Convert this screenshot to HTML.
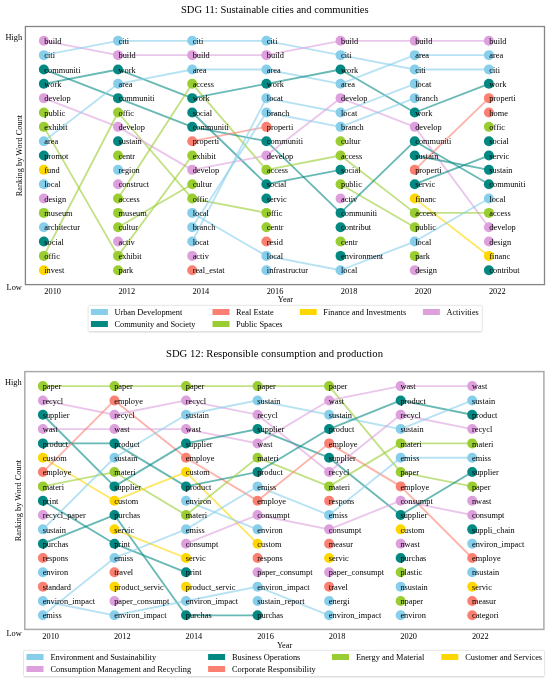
<!DOCTYPE html><html><head><meta charset="utf-8"><style>html,body{margin:0;padding:0;background:#fff;}svg{display:block;filter:blur(0.3px);}text{font-family:"Liberation Serif",serif;font-size:8.35px;fill:#000;}.ttl{font-size:10.3px;}</style></head><body>
<svg width="550" height="683" viewBox="0 0 550 683">
<text class="ttl" x="181" y="12.8" textLength="187.6" lengthAdjust="spacingAndGlyphs">SDG 11: Sustainable cities and communities</text>
<rect x="25.4" y="26.5" width="519.10" height="258.10" fill="none" stroke="#858585" stroke-width="1.3"/>
<line x1="43.85" y1="40.80" x2="118.03" y2="55.14" stroke="#DDA0DD" stroke-opacity="0.6" stroke-width="1.85"/>
<line x1="43.85" y1="55.14" x2="118.03" y2="40.80" stroke="#87CEEB" stroke-opacity="0.6" stroke-width="1.85"/>
<line x1="43.85" y1="69.48" x2="118.03" y2="98.16" stroke="#048882" stroke-opacity="0.6" stroke-width="1.85"/>
<line x1="43.85" y1="83.82" x2="118.03" y2="69.48" stroke="#048882" stroke-opacity="0.6" stroke-width="1.85"/>
<line x1="43.85" y1="98.16" x2="118.03" y2="126.84" stroke="#DDA0DD" stroke-opacity="0.6" stroke-width="1.85"/>
<line x1="43.85" y1="126.84" x2="118.03" y2="255.90" stroke="#9ACD32" stroke-opacity="0.6" stroke-width="1.85"/>
<line x1="43.85" y1="141.18" x2="118.03" y2="83.82" stroke="#87CEEB" stroke-opacity="0.6" stroke-width="1.85"/>
<line x1="43.85" y1="255.90" x2="118.03" y2="112.50" stroke="#9ACD32" stroke-opacity="0.6" stroke-width="1.85"/>
<line x1="118.03" y1="40.80" x2="192.20" y2="40.80" stroke="#87CEEB" stroke-opacity="0.6" stroke-width="1.85"/>
<line x1="118.03" y1="55.14" x2="192.20" y2="55.14" stroke="#DDA0DD" stroke-opacity="0.6" stroke-width="1.85"/>
<line x1="118.03" y1="69.48" x2="192.20" y2="98.16" stroke="#048882" stroke-opacity="0.6" stroke-width="1.85"/>
<line x1="118.03" y1="83.82" x2="192.20" y2="69.48" stroke="#87CEEB" stroke-opacity="0.6" stroke-width="1.85"/>
<line x1="118.03" y1="98.16" x2="192.20" y2="126.84" stroke="#048882" stroke-opacity="0.6" stroke-width="1.85"/>
<line x1="118.03" y1="112.50" x2="192.20" y2="198.54" stroke="#9ACD32" stroke-opacity="0.6" stroke-width="1.85"/>
<line x1="118.03" y1="126.84" x2="192.20" y2="169.86" stroke="#DDA0DD" stroke-opacity="0.6" stroke-width="1.85"/>
<line x1="118.03" y1="198.54" x2="192.20" y2="83.82" stroke="#9ACD32" stroke-opacity="0.6" stroke-width="1.85"/>
<line x1="118.03" y1="227.22" x2="192.20" y2="184.20" stroke="#9ACD32" stroke-opacity="0.6" stroke-width="1.85"/>
<line x1="118.03" y1="255.90" x2="192.20" y2="155.52" stroke="#9ACD32" stroke-opacity="0.6" stroke-width="1.85"/>
<line x1="192.20" y1="40.80" x2="266.38" y2="40.80" stroke="#87CEEB" stroke-opacity="0.6" stroke-width="1.85"/>
<line x1="192.20" y1="55.14" x2="266.38" y2="55.14" stroke="#DDA0DD" stroke-opacity="0.6" stroke-width="1.85"/>
<line x1="192.20" y1="69.48" x2="266.38" y2="69.48" stroke="#87CEEB" stroke-opacity="0.6" stroke-width="1.85"/>
<line x1="192.20" y1="83.82" x2="266.38" y2="169.86" stroke="#9ACD32" stroke-opacity="0.6" stroke-width="1.85"/>
<line x1="192.20" y1="98.16" x2="266.38" y2="83.82" stroke="#048882" stroke-opacity="0.6" stroke-width="1.85"/>
<line x1="192.20" y1="112.50" x2="266.38" y2="184.20" stroke="#048882" stroke-opacity="0.6" stroke-width="1.85"/>
<line x1="192.20" y1="126.84" x2="266.38" y2="141.18" stroke="#048882" stroke-opacity="0.6" stroke-width="1.85"/>
<line x1="192.20" y1="141.18" x2="266.38" y2="126.84" stroke="#FA8072" stroke-opacity="0.6" stroke-width="1.85"/>
<line x1="192.20" y1="169.86" x2="266.38" y2="155.52" stroke="#DDA0DD" stroke-opacity="0.6" stroke-width="1.85"/>
<line x1="192.20" y1="198.54" x2="266.38" y2="212.88" stroke="#9ACD32" stroke-opacity="0.6" stroke-width="1.85"/>
<line x1="192.20" y1="212.88" x2="266.38" y2="255.90" stroke="#87CEEB" stroke-opacity="0.6" stroke-width="1.85"/>
<line x1="192.20" y1="227.22" x2="266.38" y2="112.50" stroke="#87CEEB" stroke-opacity="0.6" stroke-width="1.85"/>
<line x1="192.20" y1="241.56" x2="266.38" y2="98.16" stroke="#87CEEB" stroke-opacity="0.6" stroke-width="1.85"/>
<line x1="266.38" y1="40.80" x2="340.55" y2="55.14" stroke="#87CEEB" stroke-opacity="0.6" stroke-width="1.85"/>
<line x1="266.38" y1="55.14" x2="340.55" y2="40.80" stroke="#DDA0DD" stroke-opacity="0.6" stroke-width="1.85"/>
<line x1="266.38" y1="69.48" x2="340.55" y2="83.82" stroke="#87CEEB" stroke-opacity="0.6" stroke-width="1.85"/>
<line x1="266.38" y1="83.82" x2="340.55" y2="69.48" stroke="#048882" stroke-opacity="0.6" stroke-width="1.85"/>
<line x1="266.38" y1="98.16" x2="340.55" y2="112.50" stroke="#87CEEB" stroke-opacity="0.6" stroke-width="1.85"/>
<line x1="266.38" y1="112.50" x2="340.55" y2="126.84" stroke="#87CEEB" stroke-opacity="0.6" stroke-width="1.85"/>
<line x1="266.38" y1="141.18" x2="340.55" y2="212.88" stroke="#048882" stroke-opacity="0.6" stroke-width="1.85"/>
<line x1="266.38" y1="155.52" x2="340.55" y2="98.16" stroke="#DDA0DD" stroke-opacity="0.6" stroke-width="1.85"/>
<line x1="266.38" y1="169.86" x2="340.55" y2="155.52" stroke="#9ACD32" stroke-opacity="0.6" stroke-width="1.85"/>
<line x1="266.38" y1="184.20" x2="340.55" y2="169.86" stroke="#048882" stroke-opacity="0.6" stroke-width="1.85"/>
<line x1="266.38" y1="255.90" x2="340.55" y2="270.24" stroke="#87CEEB" stroke-opacity="0.6" stroke-width="1.85"/>
<line x1="340.55" y1="40.80" x2="414.73" y2="40.80" stroke="#DDA0DD" stroke-opacity="0.6" stroke-width="1.85"/>
<line x1="340.55" y1="55.14" x2="414.73" y2="69.48" stroke="#87CEEB" stroke-opacity="0.6" stroke-width="1.85"/>
<line x1="340.55" y1="69.48" x2="414.73" y2="112.50" stroke="#048882" stroke-opacity="0.6" stroke-width="1.85"/>
<line x1="340.55" y1="83.82" x2="414.73" y2="55.14" stroke="#87CEEB" stroke-opacity="0.6" stroke-width="1.85"/>
<line x1="340.55" y1="98.16" x2="414.73" y2="126.84" stroke="#DDA0DD" stroke-opacity="0.6" stroke-width="1.85"/>
<line x1="340.55" y1="112.50" x2="414.73" y2="83.82" stroke="#87CEEB" stroke-opacity="0.6" stroke-width="1.85"/>
<line x1="340.55" y1="126.84" x2="414.73" y2="98.16" stroke="#87CEEB" stroke-opacity="0.6" stroke-width="1.85"/>
<line x1="340.55" y1="155.52" x2="414.73" y2="212.88" stroke="#9ACD32" stroke-opacity="0.6" stroke-width="1.85"/>
<line x1="340.55" y1="184.20" x2="414.73" y2="227.22" stroke="#9ACD32" stroke-opacity="0.6" stroke-width="1.85"/>
<line x1="340.55" y1="212.88" x2="414.73" y2="141.18" stroke="#048882" stroke-opacity="0.6" stroke-width="1.85"/>
<line x1="340.55" y1="270.24" x2="414.73" y2="241.56" stroke="#87CEEB" stroke-opacity="0.6" stroke-width="1.85"/>
<line x1="414.73" y1="40.80" x2="488.90" y2="40.80" stroke="#DDA0DD" stroke-opacity="0.6" stroke-width="1.85"/>
<line x1="414.73" y1="55.14" x2="488.90" y2="55.14" stroke="#87CEEB" stroke-opacity="0.6" stroke-width="1.85"/>
<line x1="414.73" y1="69.48" x2="488.90" y2="69.48" stroke="#87CEEB" stroke-opacity="0.6" stroke-width="1.85"/>
<line x1="414.73" y1="112.50" x2="488.90" y2="83.82" stroke="#048882" stroke-opacity="0.6" stroke-width="1.85"/>
<line x1="414.73" y1="126.84" x2="488.90" y2="227.22" stroke="#DDA0DD" stroke-opacity="0.6" stroke-width="1.85"/>
<line x1="414.73" y1="141.18" x2="488.90" y2="184.20" stroke="#048882" stroke-opacity="0.6" stroke-width="1.85"/>
<line x1="414.73" y1="155.52" x2="488.90" y2="169.86" stroke="#048882" stroke-opacity="0.6" stroke-width="1.85"/>
<line x1="414.73" y1="169.86" x2="488.90" y2="98.16" stroke="#FA8072" stroke-opacity="0.6" stroke-width="1.85"/>
<line x1="414.73" y1="184.20" x2="488.90" y2="155.52" stroke="#048882" stroke-opacity="0.6" stroke-width="1.85"/>
<line x1="414.73" y1="198.54" x2="488.90" y2="255.90" stroke="#FFD700" stroke-opacity="0.6" stroke-width="1.85"/>
<line x1="414.73" y1="212.88" x2="488.90" y2="212.88" stroke="#9ACD32" stroke-opacity="0.6" stroke-width="1.85"/>
<line x1="414.73" y1="241.56" x2="488.90" y2="198.54" stroke="#87CEEB" stroke-opacity="0.6" stroke-width="1.85"/>
<circle cx="43.85" cy="40.80" r="5.0" fill="#DDA0DD" fill-opacity="1.0"/>
<circle cx="43.85" cy="55.14" r="5.0" fill="#87CEEB" fill-opacity="1.0"/>
<circle cx="43.85" cy="69.48" r="5.0" fill="#048882" fill-opacity="1.0"/>
<circle cx="43.85" cy="83.82" r="5.0" fill="#048882" fill-opacity="1.0"/>
<circle cx="43.85" cy="98.16" r="5.0" fill="#DDA0DD" fill-opacity="1.0"/>
<circle cx="43.85" cy="112.50" r="5.0" fill="#9ACD32" fill-opacity="1.0"/>
<circle cx="43.85" cy="126.84" r="5.0" fill="#9ACD32" fill-opacity="1.0"/>
<circle cx="43.85" cy="141.18" r="5.0" fill="#87CEEB" fill-opacity="1.0"/>
<circle cx="43.85" cy="155.52" r="5.0" fill="#048882" fill-opacity="1.0"/>
<circle cx="43.85" cy="169.86" r="5.0" fill="#FFD700" fill-opacity="1.0"/>
<circle cx="43.85" cy="184.20" r="5.0" fill="#87CEEB" fill-opacity="1.0"/>
<circle cx="43.85" cy="198.54" r="5.0" fill="#DDA0DD" fill-opacity="1.0"/>
<circle cx="43.85" cy="212.88" r="5.0" fill="#9ACD32" fill-opacity="1.0"/>
<circle cx="43.85" cy="227.22" r="5.0" fill="#87CEEB" fill-opacity="1.0"/>
<circle cx="43.85" cy="241.56" r="5.0" fill="#048882" fill-opacity="1.0"/>
<circle cx="43.85" cy="255.90" r="5.0" fill="#9ACD32" fill-opacity="1.0"/>
<circle cx="43.85" cy="270.24" r="5.0" fill="#FFD700" fill-opacity="1.0"/>
<circle cx="118.03" cy="40.80" r="5.0" fill="#87CEEB" fill-opacity="1.0"/>
<circle cx="118.03" cy="55.14" r="5.0" fill="#DDA0DD" fill-opacity="1.0"/>
<circle cx="118.03" cy="69.48" r="5.0" fill="#048882" fill-opacity="1.0"/>
<circle cx="118.03" cy="83.82" r="5.0" fill="#87CEEB" fill-opacity="1.0"/>
<circle cx="118.03" cy="98.16" r="5.0" fill="#048882" fill-opacity="1.0"/>
<circle cx="118.03" cy="112.50" r="5.0" fill="#9ACD32" fill-opacity="1.0"/>
<circle cx="118.03" cy="126.84" r="5.0" fill="#DDA0DD" fill-opacity="1.0"/>
<circle cx="118.03" cy="141.18" r="5.0" fill="#048882" fill-opacity="1.0"/>
<circle cx="118.03" cy="155.52" r="5.0" fill="#9ACD32" fill-opacity="1.0"/>
<circle cx="118.03" cy="169.86" r="5.0" fill="#87CEEB" fill-opacity="1.0"/>
<circle cx="118.03" cy="184.20" r="5.0" fill="#DDA0DD" fill-opacity="1.0"/>
<circle cx="118.03" cy="198.54" r="5.0" fill="#9ACD32" fill-opacity="1.0"/>
<circle cx="118.03" cy="212.88" r="5.0" fill="#9ACD32" fill-opacity="1.0"/>
<circle cx="118.03" cy="227.22" r="5.0" fill="#9ACD32" fill-opacity="1.0"/>
<circle cx="118.03" cy="241.56" r="5.0" fill="#DDA0DD" fill-opacity="1.0"/>
<circle cx="118.03" cy="255.90" r="5.0" fill="#9ACD32" fill-opacity="1.0"/>
<circle cx="118.03" cy="270.24" r="5.0" fill="#9ACD32" fill-opacity="1.0"/>
<circle cx="192.20" cy="40.80" r="5.0" fill="#87CEEB" fill-opacity="1.0"/>
<circle cx="192.20" cy="55.14" r="5.0" fill="#DDA0DD" fill-opacity="1.0"/>
<circle cx="192.20" cy="69.48" r="5.0" fill="#87CEEB" fill-opacity="1.0"/>
<circle cx="192.20" cy="83.82" r="5.0" fill="#9ACD32" fill-opacity="1.0"/>
<circle cx="192.20" cy="98.16" r="5.0" fill="#048882" fill-opacity="1.0"/>
<circle cx="192.20" cy="112.50" r="5.0" fill="#048882" fill-opacity="1.0"/>
<circle cx="192.20" cy="126.84" r="5.0" fill="#048882" fill-opacity="1.0"/>
<circle cx="192.20" cy="141.18" r="5.0" fill="#FA8072" fill-opacity="1.0"/>
<circle cx="192.20" cy="155.52" r="5.0" fill="#9ACD32" fill-opacity="1.0"/>
<circle cx="192.20" cy="169.86" r="5.0" fill="#DDA0DD" fill-opacity="1.0"/>
<circle cx="192.20" cy="184.20" r="5.0" fill="#9ACD32" fill-opacity="1.0"/>
<circle cx="192.20" cy="198.54" r="5.0" fill="#9ACD32" fill-opacity="1.0"/>
<circle cx="192.20" cy="212.88" r="5.0" fill="#87CEEB" fill-opacity="1.0"/>
<circle cx="192.20" cy="227.22" r="5.0" fill="#87CEEB" fill-opacity="1.0"/>
<circle cx="192.20" cy="241.56" r="5.0" fill="#87CEEB" fill-opacity="1.0"/>
<circle cx="192.20" cy="255.90" r="5.0" fill="#DDA0DD" fill-opacity="1.0"/>
<circle cx="192.20" cy="270.24" r="5.0" fill="#FA8072" fill-opacity="1.0"/>
<circle cx="266.38" cy="40.80" r="5.0" fill="#87CEEB" fill-opacity="1.0"/>
<circle cx="266.38" cy="55.14" r="5.0" fill="#DDA0DD" fill-opacity="1.0"/>
<circle cx="266.38" cy="69.48" r="5.0" fill="#87CEEB" fill-opacity="1.0"/>
<circle cx="266.38" cy="83.82" r="5.0" fill="#048882" fill-opacity="1.0"/>
<circle cx="266.38" cy="98.16" r="5.0" fill="#87CEEB" fill-opacity="1.0"/>
<circle cx="266.38" cy="112.50" r="5.0" fill="#87CEEB" fill-opacity="1.0"/>
<circle cx="266.38" cy="126.84" r="5.0" fill="#FA8072" fill-opacity="1.0"/>
<circle cx="266.38" cy="141.18" r="5.0" fill="#048882" fill-opacity="1.0"/>
<circle cx="266.38" cy="155.52" r="5.0" fill="#DDA0DD" fill-opacity="1.0"/>
<circle cx="266.38" cy="169.86" r="5.0" fill="#9ACD32" fill-opacity="1.0"/>
<circle cx="266.38" cy="184.20" r="5.0" fill="#048882" fill-opacity="1.0"/>
<circle cx="266.38" cy="198.54" r="5.0" fill="#048882" fill-opacity="1.0"/>
<circle cx="266.38" cy="212.88" r="5.0" fill="#9ACD32" fill-opacity="1.0"/>
<circle cx="266.38" cy="227.22" r="5.0" fill="#9ACD32" fill-opacity="1.0"/>
<circle cx="266.38" cy="241.56" r="5.0" fill="#FA8072" fill-opacity="1.0"/>
<circle cx="266.38" cy="255.90" r="5.0" fill="#87CEEB" fill-opacity="1.0"/>
<circle cx="266.38" cy="270.24" r="5.0" fill="#87CEEB" fill-opacity="1.0"/>
<circle cx="340.55" cy="40.80" r="5.0" fill="#DDA0DD" fill-opacity="1.0"/>
<circle cx="340.55" cy="55.14" r="5.0" fill="#87CEEB" fill-opacity="1.0"/>
<circle cx="340.55" cy="69.48" r="5.0" fill="#048882" fill-opacity="1.0"/>
<circle cx="340.55" cy="83.82" r="5.0" fill="#87CEEB" fill-opacity="1.0"/>
<circle cx="340.55" cy="98.16" r="5.0" fill="#DDA0DD" fill-opacity="1.0"/>
<circle cx="340.55" cy="112.50" r="5.0" fill="#87CEEB" fill-opacity="1.0"/>
<circle cx="340.55" cy="126.84" r="5.0" fill="#87CEEB" fill-opacity="1.0"/>
<circle cx="340.55" cy="141.18" r="5.0" fill="#9ACD32" fill-opacity="1.0"/>
<circle cx="340.55" cy="155.52" r="5.0" fill="#9ACD32" fill-opacity="1.0"/>
<circle cx="340.55" cy="169.86" r="5.0" fill="#048882" fill-opacity="1.0"/>
<circle cx="340.55" cy="184.20" r="5.0" fill="#9ACD32" fill-opacity="1.0"/>
<circle cx="340.55" cy="198.54" r="5.0" fill="#DDA0DD" fill-opacity="1.0"/>
<circle cx="340.55" cy="212.88" r="5.0" fill="#048882" fill-opacity="1.0"/>
<circle cx="340.55" cy="227.22" r="5.0" fill="#048882" fill-opacity="1.0"/>
<circle cx="340.55" cy="241.56" r="5.0" fill="#9ACD32" fill-opacity="1.0"/>
<circle cx="340.55" cy="255.90" r="5.0" fill="#048882" fill-opacity="1.0"/>
<circle cx="340.55" cy="270.24" r="5.0" fill="#87CEEB" fill-opacity="1.0"/>
<circle cx="414.73" cy="40.80" r="5.0" fill="#DDA0DD" fill-opacity="1.0"/>
<circle cx="414.73" cy="55.14" r="5.0" fill="#87CEEB" fill-opacity="1.0"/>
<circle cx="414.73" cy="69.48" r="5.0" fill="#87CEEB" fill-opacity="1.0"/>
<circle cx="414.73" cy="83.82" r="5.0" fill="#87CEEB" fill-opacity="1.0"/>
<circle cx="414.73" cy="98.16" r="5.0" fill="#87CEEB" fill-opacity="1.0"/>
<circle cx="414.73" cy="112.50" r="5.0" fill="#048882" fill-opacity="1.0"/>
<circle cx="414.73" cy="126.84" r="5.0" fill="#DDA0DD" fill-opacity="1.0"/>
<circle cx="414.73" cy="141.18" r="5.0" fill="#048882" fill-opacity="1.0"/>
<circle cx="414.73" cy="155.52" r="5.0" fill="#048882" fill-opacity="1.0"/>
<circle cx="414.73" cy="169.86" r="5.0" fill="#FA8072" fill-opacity="1.0"/>
<circle cx="414.73" cy="184.20" r="5.0" fill="#048882" fill-opacity="1.0"/>
<circle cx="414.73" cy="198.54" r="5.0" fill="#FFD700" fill-opacity="1.0"/>
<circle cx="414.73" cy="212.88" r="5.0" fill="#9ACD32" fill-opacity="1.0"/>
<circle cx="414.73" cy="227.22" r="5.0" fill="#9ACD32" fill-opacity="1.0"/>
<circle cx="414.73" cy="241.56" r="5.0" fill="#87CEEB" fill-opacity="1.0"/>
<circle cx="414.73" cy="255.90" r="5.0" fill="#9ACD32" fill-opacity="1.0"/>
<circle cx="414.73" cy="270.24" r="5.0" fill="#DDA0DD" fill-opacity="1.0"/>
<circle cx="488.90" cy="40.80" r="5.0" fill="#DDA0DD" fill-opacity="1.0"/>
<circle cx="488.90" cy="55.14" r="5.0" fill="#87CEEB" fill-opacity="1.0"/>
<circle cx="488.90" cy="69.48" r="5.0" fill="#87CEEB" fill-opacity="1.0"/>
<circle cx="488.90" cy="83.82" r="5.0" fill="#048882" fill-opacity="1.0"/>
<circle cx="488.90" cy="98.16" r="5.0" fill="#FA8072" fill-opacity="1.0"/>
<circle cx="488.90" cy="112.50" r="5.0" fill="#FA8072" fill-opacity="1.0"/>
<circle cx="488.90" cy="126.84" r="5.0" fill="#9ACD32" fill-opacity="1.0"/>
<circle cx="488.90" cy="141.18" r="5.0" fill="#048882" fill-opacity="1.0"/>
<circle cx="488.90" cy="155.52" r="5.0" fill="#048882" fill-opacity="1.0"/>
<circle cx="488.90" cy="169.86" r="5.0" fill="#048882" fill-opacity="1.0"/>
<circle cx="488.90" cy="184.20" r="5.0" fill="#048882" fill-opacity="1.0"/>
<circle cx="488.90" cy="198.54" r="5.0" fill="#87CEEB" fill-opacity="1.0"/>
<circle cx="488.90" cy="212.88" r="5.0" fill="#9ACD32" fill-opacity="1.0"/>
<circle cx="488.90" cy="227.22" r="5.0" fill="#DDA0DD" fill-opacity="1.0"/>
<circle cx="488.90" cy="241.56" r="5.0" fill="#DDA0DD" fill-opacity="1.0"/>
<circle cx="488.90" cy="255.90" r="5.0" fill="#FFD700" fill-opacity="1.0"/>
<circle cx="488.90" cy="270.24" r="5.0" fill="#048882" fill-opacity="1.0"/>
<text x="44.30" y="43.95">build</text>
<text x="44.30" y="58.29">citi</text>
<text x="44.30" y="72.63">communiti</text>
<text x="44.30" y="86.97">work</text>
<text x="44.30" y="101.31">develop</text>
<text x="44.30" y="115.65">public</text>
<text x="44.30" y="129.99">exhibit</text>
<text x="44.30" y="144.33">area</text>
<text x="44.30" y="158.67">promot</text>
<text x="44.30" y="173.01">fund</text>
<text x="44.30" y="187.35">local</text>
<text x="44.30" y="201.69">design</text>
<text x="44.30" y="216.03">museum</text>
<text x="44.30" y="230.37">architectur</text>
<text x="44.30" y="244.71">social</text>
<text x="44.30" y="259.05">offic</text>
<text x="44.30" y="273.39">invest</text>
<text x="118.48" y="43.95">citi</text>
<text x="118.48" y="58.29">build</text>
<text x="118.48" y="72.63">work</text>
<text x="118.48" y="86.97">area</text>
<text x="118.48" y="101.31">communiti</text>
<text x="118.48" y="115.65">offic</text>
<text x="118.48" y="129.99">develop</text>
<text x="118.48" y="144.33">sustain</text>
<text x="118.48" y="158.67">centr</text>
<text x="118.48" y="173.01">region</text>
<text x="118.48" y="187.35">construct</text>
<text x="118.48" y="201.69">access</text>
<text x="118.48" y="216.03">museum</text>
<text x="118.48" y="230.37">cultur</text>
<text x="118.48" y="244.71">activ</text>
<text x="118.48" y="259.05">exhibit</text>
<text x="118.48" y="273.39">park</text>
<text x="192.65" y="43.95">citi</text>
<text x="192.65" y="58.29">build</text>
<text x="192.65" y="72.63">area</text>
<text x="192.65" y="86.97">access</text>
<text x="192.65" y="101.31">work</text>
<text x="192.65" y="115.65">social</text>
<text x="192.65" y="129.99">communiti</text>
<text x="192.65" y="144.33">properti</text>
<text x="192.65" y="158.67">exhibit</text>
<text x="192.65" y="173.01">develop</text>
<text x="192.65" y="187.35">cultur</text>
<text x="192.65" y="201.69">offic</text>
<text x="192.65" y="216.03">local</text>
<text x="192.65" y="230.37">branch</text>
<text x="192.65" y="244.71">locat</text>
<text x="192.65" y="259.05">activ</text>
<text x="192.65" y="273.39">real_estat</text>
<text x="266.82" y="43.95">citi</text>
<text x="266.82" y="58.29">build</text>
<text x="266.82" y="72.63">area</text>
<text x="266.82" y="86.97">work</text>
<text x="266.82" y="101.31">locat</text>
<text x="266.82" y="115.65">branch</text>
<text x="266.82" y="129.99">properti</text>
<text x="266.82" y="144.33">communiti</text>
<text x="266.82" y="158.67">develop</text>
<text x="266.82" y="173.01">access</text>
<text x="266.82" y="187.35">social</text>
<text x="266.82" y="201.69">servic</text>
<text x="266.82" y="216.03">offic</text>
<text x="266.82" y="230.37">centr</text>
<text x="266.82" y="244.71">resid</text>
<text x="266.82" y="259.05">local</text>
<text x="266.82" y="273.39">infrastructur</text>
<text x="341.00" y="43.95">build</text>
<text x="341.00" y="58.29">citi</text>
<text x="341.00" y="72.63">work</text>
<text x="341.00" y="86.97">area</text>
<text x="341.00" y="101.31">develop</text>
<text x="341.00" y="115.65">locat</text>
<text x="341.00" y="129.99">branch</text>
<text x="341.00" y="144.33">cultur</text>
<text x="341.00" y="158.67">access</text>
<text x="341.00" y="173.01">social</text>
<text x="341.00" y="187.35">public</text>
<text x="341.00" y="201.69">activ</text>
<text x="341.00" y="216.03">communiti</text>
<text x="341.00" y="230.37">contribut</text>
<text x="341.00" y="244.71">centr</text>
<text x="341.00" y="259.05">environment</text>
<text x="341.00" y="273.39">local</text>
<text x="415.18" y="43.95">build</text>
<text x="415.18" y="58.29">area</text>
<text x="415.18" y="72.63">citi</text>
<text x="415.18" y="86.97">locat</text>
<text x="415.18" y="101.31">branch</text>
<text x="415.18" y="115.65">work</text>
<text x="415.18" y="129.99">develop</text>
<text x="415.18" y="144.33">communiti</text>
<text x="415.18" y="158.67">sustain</text>
<text x="415.18" y="173.01">properti</text>
<text x="415.18" y="187.35">servic</text>
<text x="415.18" y="201.69">financ</text>
<text x="415.18" y="216.03">access</text>
<text x="415.18" y="230.37">public</text>
<text x="415.18" y="244.71">local</text>
<text x="415.18" y="259.05">park</text>
<text x="415.18" y="273.39">design</text>
<text x="489.35" y="43.95">build</text>
<text x="489.35" y="58.29">area</text>
<text x="489.35" y="72.63">citi</text>
<text x="489.35" y="86.97">work</text>
<text x="489.35" y="101.31">properti</text>
<text x="489.35" y="115.65">home</text>
<text x="489.35" y="129.99">offic</text>
<text x="489.35" y="144.33">social</text>
<text x="489.35" y="158.67">servic</text>
<text x="489.35" y="173.01">sustain</text>
<text x="489.35" y="187.35">communiti</text>
<text x="489.35" y="201.69">local</text>
<text x="489.35" y="216.03">access</text>
<text x="489.35" y="230.37">develop</text>
<text x="489.35" y="244.71">design</text>
<text x="489.35" y="259.05">financ</text>
<text x="489.35" y="273.39">contribut</text>
<text x="5.5" y="39.9">High</text>
<text x="6.6" y="290.2">Low</text>
<text x="44.35" y="293.6">2010</text>
<text x="118.45" y="293.6">2012</text>
<text x="192.55" y="293.6">2014</text>
<text x="266.65" y="293.6">2016</text>
<text x="340.75" y="293.6">2018</text>
<text x="414.85" y="293.6">2020</text>
<text x="488.95" y="293.6">2022</text>
<text x="277.7" y="302">Year</text>
<text transform="translate(21.6,155.6) rotate(-90)" text-anchor="middle">Ranking by Word Count</text>
<rect x="88.1" y="305.3" width="394.2" height="26.8" rx="1.5" fill="#fff" fill-opacity="0.8" stroke="#e2e2e2" stroke-width="0.9"/>
<line x1="89.1" y1="331.70" x2="481.30" y2="331.70" stroke="#dcdcdc" stroke-width="1"/>
<rect x="90.9" y="309.00" width="17" height="6" fill="#87CEEB"/>
<text x="114.40" y="315.00">Urban Development</text>
<rect x="90.9" y="321.00" width="17" height="6" fill="#048882"/>
<text x="114.40" y="327.00">Community and Society</text>
<rect x="212.5" y="309.00" width="17" height="6" fill="#FA8072"/>
<text x="236.00" y="315.00">Real Estate</text>
<rect x="212.5" y="321.00" width="17" height="6" fill="#9ACD32"/>
<text x="236.00" y="327.00">Public Spaces</text>
<rect x="299.8" y="309.00" width="17" height="6" fill="#FFD700"/>
<text x="323.30" y="315.00">Finance and Investments</text>
<rect x="422.9" y="309.00" width="17" height="6" fill="#DDA0DD"/>
<text x="446.40" y="315.00">Activities</text>
<text class="ttl" x="166" y="357.3" textLength="217" lengthAdjust="spacingAndGlyphs">SDG 12: Responsible consumption and production</text>
<rect x="24.8" y="371.6" width="519.10" height="257.80" fill="none" stroke="#aaaaaa" stroke-width="1.5"/>
<line x1="42.90" y1="386.10" x2="114.45" y2="386.10" stroke="#9ACD32" stroke-opacity="0.6" stroke-width="1.85"/>
<line x1="42.90" y1="400.43" x2="114.45" y2="414.75" stroke="#DDA0DD" stroke-opacity="0.6" stroke-width="1.85"/>
<line x1="42.90" y1="414.75" x2="114.45" y2="486.38" stroke="#048882" stroke-opacity="0.6" stroke-width="1.85"/>
<line x1="42.90" y1="429.08" x2="114.45" y2="429.08" stroke="#DDA0DD" stroke-opacity="0.6" stroke-width="1.85"/>
<line x1="42.90" y1="443.40" x2="114.45" y2="443.40" stroke="#048882" stroke-opacity="0.6" stroke-width="1.85"/>
<line x1="42.90" y1="457.73" x2="114.45" y2="500.70" stroke="#FFD700" stroke-opacity="0.6" stroke-width="1.85"/>
<line x1="42.90" y1="472.05" x2="114.45" y2="400.43" stroke="#FA8072" stroke-opacity="0.6" stroke-width="1.85"/>
<line x1="42.90" y1="486.38" x2="114.45" y2="472.05" stroke="#9ACD32" stroke-opacity="0.6" stroke-width="1.85"/>
<line x1="42.90" y1="500.70" x2="114.45" y2="543.67" stroke="#048882" stroke-opacity="0.6" stroke-width="1.85"/>
<line x1="42.90" y1="529.35" x2="114.45" y2="457.73" stroke="#87CEEB" stroke-opacity="0.6" stroke-width="1.85"/>
<line x1="42.90" y1="543.67" x2="114.45" y2="515.02" stroke="#048882" stroke-opacity="0.6" stroke-width="1.85"/>
<line x1="42.90" y1="600.98" x2="114.45" y2="615.30" stroke="#87CEEB" stroke-opacity="0.6" stroke-width="1.85"/>
<line x1="42.90" y1="615.30" x2="114.45" y2="558.00" stroke="#87CEEB" stroke-opacity="0.6" stroke-width="1.85"/>
<line x1="114.45" y1="386.10" x2="186.00" y2="386.10" stroke="#9ACD32" stroke-opacity="0.6" stroke-width="1.85"/>
<line x1="114.45" y1="400.43" x2="186.00" y2="457.73" stroke="#FA8072" stroke-opacity="0.6" stroke-width="1.85"/>
<line x1="114.45" y1="414.75" x2="186.00" y2="400.43" stroke="#DDA0DD" stroke-opacity="0.6" stroke-width="1.85"/>
<line x1="114.45" y1="429.08" x2="186.00" y2="429.08" stroke="#DDA0DD" stroke-opacity="0.6" stroke-width="1.85"/>
<line x1="114.45" y1="443.40" x2="186.00" y2="486.38" stroke="#048882" stroke-opacity="0.6" stroke-width="1.85"/>
<line x1="114.45" y1="457.73" x2="186.00" y2="414.75" stroke="#87CEEB" stroke-opacity="0.6" stroke-width="1.85"/>
<line x1="114.45" y1="472.05" x2="186.00" y2="515.02" stroke="#9ACD32" stroke-opacity="0.6" stroke-width="1.85"/>
<line x1="114.45" y1="486.38" x2="186.00" y2="443.40" stroke="#048882" stroke-opacity="0.6" stroke-width="1.85"/>
<line x1="114.45" y1="500.70" x2="186.00" y2="472.05" stroke="#FFD700" stroke-opacity="0.6" stroke-width="1.85"/>
<line x1="114.45" y1="515.02" x2="186.00" y2="615.30" stroke="#048882" stroke-opacity="0.6" stroke-width="1.85"/>
<line x1="114.45" y1="529.35" x2="186.00" y2="558.00" stroke="#FFD700" stroke-opacity="0.6" stroke-width="1.85"/>
<line x1="114.45" y1="543.67" x2="186.00" y2="572.33" stroke="#048882" stroke-opacity="0.6" stroke-width="1.85"/>
<line x1="114.45" y1="558.00" x2="186.00" y2="529.35" stroke="#87CEEB" stroke-opacity="0.6" stroke-width="1.85"/>
<line x1="114.45" y1="615.30" x2="186.00" y2="600.98" stroke="#87CEEB" stroke-opacity="0.6" stroke-width="1.85"/>
<line x1="186.00" y1="386.10" x2="257.55" y2="386.10" stroke="#9ACD32" stroke-opacity="0.6" stroke-width="1.85"/>
<line x1="186.00" y1="400.43" x2="257.55" y2="414.75" stroke="#DDA0DD" stroke-opacity="0.6" stroke-width="1.85"/>
<line x1="186.00" y1="414.75" x2="257.55" y2="400.43" stroke="#87CEEB" stroke-opacity="0.6" stroke-width="1.85"/>
<line x1="186.00" y1="429.08" x2="257.55" y2="443.40" stroke="#DDA0DD" stroke-opacity="0.6" stroke-width="1.85"/>
<line x1="186.00" y1="443.40" x2="257.55" y2="429.08" stroke="#048882" stroke-opacity="0.6" stroke-width="1.85"/>
<line x1="186.00" y1="457.73" x2="257.55" y2="500.70" stroke="#FA8072" stroke-opacity="0.6" stroke-width="1.85"/>
<line x1="186.00" y1="472.05" x2="257.55" y2="543.67" stroke="#FFD700" stroke-opacity="0.6" stroke-width="1.85"/>
<line x1="186.00" y1="486.38" x2="257.55" y2="472.05" stroke="#048882" stroke-opacity="0.6" stroke-width="1.85"/>
<line x1="186.00" y1="500.70" x2="257.55" y2="529.35" stroke="#87CEEB" stroke-opacity="0.6" stroke-width="1.85"/>
<line x1="186.00" y1="515.02" x2="257.55" y2="457.73" stroke="#9ACD32" stroke-opacity="0.6" stroke-width="1.85"/>
<line x1="186.00" y1="529.35" x2="257.55" y2="486.38" stroke="#87CEEB" stroke-opacity="0.6" stroke-width="1.85"/>
<line x1="186.00" y1="543.67" x2="257.55" y2="515.02" stroke="#DDA0DD" stroke-opacity="0.6" stroke-width="1.85"/>
<line x1="186.00" y1="600.98" x2="257.55" y2="586.65" stroke="#87CEEB" stroke-opacity="0.6" stroke-width="1.85"/>
<line x1="186.00" y1="615.30" x2="257.55" y2="615.30" stroke="#048882" stroke-opacity="0.6" stroke-width="1.85"/>
<line x1="257.55" y1="386.10" x2="329.10" y2="386.10" stroke="#9ACD32" stroke-opacity="0.6" stroke-width="1.85"/>
<line x1="257.55" y1="400.43" x2="329.10" y2="414.75" stroke="#87CEEB" stroke-opacity="0.6" stroke-width="1.85"/>
<line x1="257.55" y1="414.75" x2="329.10" y2="472.05" stroke="#DDA0DD" stroke-opacity="0.6" stroke-width="1.85"/>
<line x1="257.55" y1="429.08" x2="329.10" y2="457.73" stroke="#048882" stroke-opacity="0.6" stroke-width="1.85"/>
<line x1="257.55" y1="443.40" x2="329.10" y2="400.43" stroke="#DDA0DD" stroke-opacity="0.6" stroke-width="1.85"/>
<line x1="257.55" y1="457.73" x2="329.10" y2="486.38" stroke="#9ACD32" stroke-opacity="0.6" stroke-width="1.85"/>
<line x1="257.55" y1="472.05" x2="329.10" y2="429.08" stroke="#048882" stroke-opacity="0.6" stroke-width="1.85"/>
<line x1="257.55" y1="486.38" x2="329.10" y2="515.02" stroke="#87CEEB" stroke-opacity="0.6" stroke-width="1.85"/>
<line x1="257.55" y1="500.70" x2="329.10" y2="443.40" stroke="#FA8072" stroke-opacity="0.6" stroke-width="1.85"/>
<line x1="257.55" y1="515.02" x2="329.10" y2="529.35" stroke="#DDA0DD" stroke-opacity="0.6" stroke-width="1.85"/>
<line x1="257.55" y1="586.65" x2="329.10" y2="615.30" stroke="#87CEEB" stroke-opacity="0.6" stroke-width="1.85"/>
<line x1="329.10" y1="386.10" x2="400.65" y2="472.05" stroke="#9ACD32" stroke-opacity="0.6" stroke-width="1.85"/>
<line x1="329.10" y1="400.43" x2="400.65" y2="386.10" stroke="#DDA0DD" stroke-opacity="0.6" stroke-width="1.85"/>
<line x1="329.10" y1="414.75" x2="400.65" y2="429.08" stroke="#87CEEB" stroke-opacity="0.6" stroke-width="1.85"/>
<line x1="329.10" y1="429.08" x2="400.65" y2="400.43" stroke="#048882" stroke-opacity="0.6" stroke-width="1.85"/>
<line x1="329.10" y1="443.40" x2="400.65" y2="486.38" stroke="#FA8072" stroke-opacity="0.6" stroke-width="1.85"/>
<line x1="329.10" y1="457.73" x2="400.65" y2="515.02" stroke="#048882" stroke-opacity="0.6" stroke-width="1.85"/>
<line x1="329.10" y1="472.05" x2="400.65" y2="414.75" stroke="#DDA0DD" stroke-opacity="0.6" stroke-width="1.85"/>
<line x1="329.10" y1="486.38" x2="400.65" y2="443.40" stroke="#9ACD32" stroke-opacity="0.6" stroke-width="1.85"/>
<line x1="329.10" y1="515.02" x2="400.65" y2="457.73" stroke="#87CEEB" stroke-opacity="0.6" stroke-width="1.85"/>
<line x1="329.10" y1="529.35" x2="400.65" y2="500.70" stroke="#DDA0DD" stroke-opacity="0.6" stroke-width="1.85"/>
<line x1="400.65" y1="386.10" x2="472.20" y2="386.10" stroke="#DDA0DD" stroke-opacity="0.6" stroke-width="1.85"/>
<line x1="400.65" y1="400.43" x2="472.20" y2="414.75" stroke="#048882" stroke-opacity="0.6" stroke-width="1.85"/>
<line x1="400.65" y1="414.75" x2="472.20" y2="429.08" stroke="#DDA0DD" stroke-opacity="0.6" stroke-width="1.85"/>
<line x1="400.65" y1="429.08" x2="472.20" y2="400.43" stroke="#87CEEB" stroke-opacity="0.6" stroke-width="1.85"/>
<line x1="400.65" y1="443.40" x2="472.20" y2="443.40" stroke="#9ACD32" stroke-opacity="0.6" stroke-width="1.85"/>
<line x1="400.65" y1="457.73" x2="472.20" y2="457.73" stroke="#87CEEB" stroke-opacity="0.6" stroke-width="1.85"/>
<line x1="400.65" y1="472.05" x2="472.20" y2="486.38" stroke="#9ACD32" stroke-opacity="0.6" stroke-width="1.85"/>
<line x1="400.65" y1="486.38" x2="472.20" y2="558.00" stroke="#FA8072" stroke-opacity="0.6" stroke-width="1.85"/>
<line x1="400.65" y1="500.70" x2="472.20" y2="515.02" stroke="#DDA0DD" stroke-opacity="0.6" stroke-width="1.85"/>
<line x1="400.65" y1="515.02" x2="472.20" y2="472.05" stroke="#048882" stroke-opacity="0.6" stroke-width="1.85"/>
<circle cx="42.90" cy="386.10" r="5.0" fill="#9ACD32" fill-opacity="1.0"/>
<circle cx="42.90" cy="400.43" r="5.0" fill="#DDA0DD" fill-opacity="1.0"/>
<circle cx="42.90" cy="414.75" r="5.0" fill="#048882" fill-opacity="1.0"/>
<circle cx="42.90" cy="429.08" r="5.0" fill="#DDA0DD" fill-opacity="1.0"/>
<circle cx="42.90" cy="443.40" r="5.0" fill="#048882" fill-opacity="1.0"/>
<circle cx="42.90" cy="457.73" r="5.0" fill="#FFD700" fill-opacity="1.0"/>
<circle cx="42.90" cy="472.05" r="5.0" fill="#FA8072" fill-opacity="1.0"/>
<circle cx="42.90" cy="486.38" r="5.0" fill="#9ACD32" fill-opacity="1.0"/>
<circle cx="42.90" cy="500.70" r="5.0" fill="#048882" fill-opacity="1.0"/>
<circle cx="42.90" cy="515.02" r="5.0" fill="#DDA0DD" fill-opacity="1.0"/>
<circle cx="42.90" cy="529.35" r="5.0" fill="#87CEEB" fill-opacity="1.0"/>
<circle cx="42.90" cy="543.67" r="5.0" fill="#048882" fill-opacity="1.0"/>
<circle cx="42.90" cy="558.00" r="5.0" fill="#FA8072" fill-opacity="1.0"/>
<circle cx="42.90" cy="572.33" r="5.0" fill="#87CEEB" fill-opacity="1.0"/>
<circle cx="42.90" cy="586.65" r="5.0" fill="#FA8072" fill-opacity="1.0"/>
<circle cx="42.90" cy="600.98" r="5.0" fill="#87CEEB" fill-opacity="1.0"/>
<circle cx="42.90" cy="615.30" r="5.0" fill="#87CEEB" fill-opacity="1.0"/>
<circle cx="114.45" cy="386.10" r="5.0" fill="#9ACD32" fill-opacity="1.0"/>
<circle cx="114.45" cy="400.43" r="5.0" fill="#FA8072" fill-opacity="1.0"/>
<circle cx="114.45" cy="414.75" r="5.0" fill="#DDA0DD" fill-opacity="1.0"/>
<circle cx="114.45" cy="429.08" r="5.0" fill="#DDA0DD" fill-opacity="1.0"/>
<circle cx="114.45" cy="443.40" r="5.0" fill="#048882" fill-opacity="1.0"/>
<circle cx="114.45" cy="457.73" r="5.0" fill="#87CEEB" fill-opacity="1.0"/>
<circle cx="114.45" cy="472.05" r="5.0" fill="#9ACD32" fill-opacity="1.0"/>
<circle cx="114.45" cy="486.38" r="5.0" fill="#048882" fill-opacity="1.0"/>
<circle cx="114.45" cy="500.70" r="5.0" fill="#FFD700" fill-opacity="1.0"/>
<circle cx="114.45" cy="515.02" r="5.0" fill="#048882" fill-opacity="1.0"/>
<circle cx="114.45" cy="529.35" r="5.0" fill="#FFD700" fill-opacity="1.0"/>
<circle cx="114.45" cy="543.67" r="5.0" fill="#048882" fill-opacity="1.0"/>
<circle cx="114.45" cy="558.00" r="5.0" fill="#87CEEB" fill-opacity="1.0"/>
<circle cx="114.45" cy="572.33" r="5.0" fill="#FA8072" fill-opacity="1.0"/>
<circle cx="114.45" cy="586.65" r="5.0" fill="#FFD700" fill-opacity="1.0"/>
<circle cx="114.45" cy="600.98" r="5.0" fill="#DDA0DD" fill-opacity="1.0"/>
<circle cx="114.45" cy="615.30" r="5.0" fill="#87CEEB" fill-opacity="1.0"/>
<circle cx="186.00" cy="386.10" r="5.0" fill="#9ACD32" fill-opacity="1.0"/>
<circle cx="186.00" cy="400.43" r="5.0" fill="#DDA0DD" fill-opacity="1.0"/>
<circle cx="186.00" cy="414.75" r="5.0" fill="#87CEEB" fill-opacity="1.0"/>
<circle cx="186.00" cy="429.08" r="5.0" fill="#DDA0DD" fill-opacity="1.0"/>
<circle cx="186.00" cy="443.40" r="5.0" fill="#048882" fill-opacity="1.0"/>
<circle cx="186.00" cy="457.73" r="5.0" fill="#FA8072" fill-opacity="1.0"/>
<circle cx="186.00" cy="472.05" r="5.0" fill="#FFD700" fill-opacity="1.0"/>
<circle cx="186.00" cy="486.38" r="5.0" fill="#048882" fill-opacity="1.0"/>
<circle cx="186.00" cy="500.70" r="5.0" fill="#87CEEB" fill-opacity="1.0"/>
<circle cx="186.00" cy="515.02" r="5.0" fill="#9ACD32" fill-opacity="1.0"/>
<circle cx="186.00" cy="529.35" r="5.0" fill="#87CEEB" fill-opacity="1.0"/>
<circle cx="186.00" cy="543.67" r="5.0" fill="#DDA0DD" fill-opacity="1.0"/>
<circle cx="186.00" cy="558.00" r="5.0" fill="#FFD700" fill-opacity="1.0"/>
<circle cx="186.00" cy="572.33" r="5.0" fill="#048882" fill-opacity="1.0"/>
<circle cx="186.00" cy="586.65" r="5.0" fill="#FFD700" fill-opacity="1.0"/>
<circle cx="186.00" cy="600.98" r="5.0" fill="#87CEEB" fill-opacity="1.0"/>
<circle cx="186.00" cy="615.30" r="5.0" fill="#048882" fill-opacity="1.0"/>
<circle cx="257.55" cy="386.10" r="5.0" fill="#9ACD32" fill-opacity="1.0"/>
<circle cx="257.55" cy="400.43" r="5.0" fill="#87CEEB" fill-opacity="1.0"/>
<circle cx="257.55" cy="414.75" r="5.0" fill="#DDA0DD" fill-opacity="1.0"/>
<circle cx="257.55" cy="429.08" r="5.0" fill="#048882" fill-opacity="1.0"/>
<circle cx="257.55" cy="443.40" r="5.0" fill="#DDA0DD" fill-opacity="1.0"/>
<circle cx="257.55" cy="457.73" r="5.0" fill="#9ACD32" fill-opacity="1.0"/>
<circle cx="257.55" cy="472.05" r="5.0" fill="#048882" fill-opacity="1.0"/>
<circle cx="257.55" cy="486.38" r="5.0" fill="#87CEEB" fill-opacity="1.0"/>
<circle cx="257.55" cy="500.70" r="5.0" fill="#FA8072" fill-opacity="1.0"/>
<circle cx="257.55" cy="515.02" r="5.0" fill="#DDA0DD" fill-opacity="1.0"/>
<circle cx="257.55" cy="529.35" r="5.0" fill="#87CEEB" fill-opacity="1.0"/>
<circle cx="257.55" cy="543.67" r="5.0" fill="#FFD700" fill-opacity="1.0"/>
<circle cx="257.55" cy="558.00" r="5.0" fill="#FA8072" fill-opacity="1.0"/>
<circle cx="257.55" cy="572.33" r="5.0" fill="#DDA0DD" fill-opacity="1.0"/>
<circle cx="257.55" cy="586.65" r="5.0" fill="#87CEEB" fill-opacity="1.0"/>
<circle cx="257.55" cy="600.98" r="5.0" fill="#87CEEB" fill-opacity="1.0"/>
<circle cx="257.55" cy="615.30" r="5.0" fill="#048882" fill-opacity="1.0"/>
<circle cx="329.10" cy="386.10" r="5.0" fill="#9ACD32" fill-opacity="1.0"/>
<circle cx="329.10" cy="400.43" r="5.0" fill="#DDA0DD" fill-opacity="1.0"/>
<circle cx="329.10" cy="414.75" r="5.0" fill="#87CEEB" fill-opacity="1.0"/>
<circle cx="329.10" cy="429.08" r="5.0" fill="#048882" fill-opacity="1.0"/>
<circle cx="329.10" cy="443.40" r="5.0" fill="#FA8072" fill-opacity="1.0"/>
<circle cx="329.10" cy="457.73" r="5.0" fill="#048882" fill-opacity="1.0"/>
<circle cx="329.10" cy="472.05" r="5.0" fill="#DDA0DD" fill-opacity="1.0"/>
<circle cx="329.10" cy="486.38" r="5.0" fill="#9ACD32" fill-opacity="1.0"/>
<circle cx="329.10" cy="500.70" r="5.0" fill="#FA8072" fill-opacity="1.0"/>
<circle cx="329.10" cy="515.02" r="5.0" fill="#87CEEB" fill-opacity="1.0"/>
<circle cx="329.10" cy="529.35" r="5.0" fill="#DDA0DD" fill-opacity="1.0"/>
<circle cx="329.10" cy="543.67" r="5.0" fill="#FA8072" fill-opacity="1.0"/>
<circle cx="329.10" cy="558.00" r="5.0" fill="#FFD700" fill-opacity="1.0"/>
<circle cx="329.10" cy="572.33" r="5.0" fill="#DDA0DD" fill-opacity="1.0"/>
<circle cx="329.10" cy="586.65" r="5.0" fill="#FA8072" fill-opacity="1.0"/>
<circle cx="329.10" cy="600.98" r="5.0" fill="#87CEEB" fill-opacity="1.0"/>
<circle cx="329.10" cy="615.30" r="5.0" fill="#87CEEB" fill-opacity="1.0"/>
<circle cx="400.65" cy="386.10" r="5.0" fill="#DDA0DD" fill-opacity="1.0"/>
<circle cx="400.65" cy="400.43" r="5.0" fill="#048882" fill-opacity="1.0"/>
<circle cx="400.65" cy="414.75" r="5.0" fill="#DDA0DD" fill-opacity="1.0"/>
<circle cx="400.65" cy="429.08" r="5.0" fill="#87CEEB" fill-opacity="1.0"/>
<circle cx="400.65" cy="443.40" r="5.0" fill="#9ACD32" fill-opacity="1.0"/>
<circle cx="400.65" cy="457.73" r="5.0" fill="#87CEEB" fill-opacity="1.0"/>
<circle cx="400.65" cy="472.05" r="5.0" fill="#9ACD32" fill-opacity="1.0"/>
<circle cx="400.65" cy="486.38" r="5.0" fill="#FA8072" fill-opacity="1.0"/>
<circle cx="400.65" cy="500.70" r="5.0" fill="#DDA0DD" fill-opacity="1.0"/>
<circle cx="400.65" cy="515.02" r="5.0" fill="#048882" fill-opacity="1.0"/>
<circle cx="400.65" cy="529.35" r="5.0" fill="#FFD700" fill-opacity="1.0"/>
<circle cx="400.65" cy="543.67" r="5.0" fill="#DDA0DD" fill-opacity="1.0"/>
<circle cx="400.65" cy="558.00" r="5.0" fill="#048882" fill-opacity="1.0"/>
<circle cx="400.65" cy="572.33" r="5.0" fill="#9ACD32" fill-opacity="1.0"/>
<circle cx="400.65" cy="586.65" r="5.0" fill="#87CEEB" fill-opacity="1.0"/>
<circle cx="400.65" cy="600.98" r="5.0" fill="#9ACD32" fill-opacity="1.0"/>
<circle cx="400.65" cy="615.30" r="5.0" fill="#87CEEB" fill-opacity="1.0"/>
<circle cx="472.20" cy="386.10" r="5.0" fill="#DDA0DD" fill-opacity="1.0"/>
<circle cx="472.20" cy="400.43" r="5.0" fill="#87CEEB" fill-opacity="1.0"/>
<circle cx="472.20" cy="414.75" r="5.0" fill="#048882" fill-opacity="1.0"/>
<circle cx="472.20" cy="429.08" r="5.0" fill="#DDA0DD" fill-opacity="1.0"/>
<circle cx="472.20" cy="443.40" r="5.0" fill="#9ACD32" fill-opacity="1.0"/>
<circle cx="472.20" cy="457.73" r="5.0" fill="#87CEEB" fill-opacity="1.0"/>
<circle cx="472.20" cy="472.05" r="5.0" fill="#048882" fill-opacity="1.0"/>
<circle cx="472.20" cy="486.38" r="5.0" fill="#9ACD32" fill-opacity="1.0"/>
<circle cx="472.20" cy="500.70" r="5.0" fill="#DDA0DD" fill-opacity="1.0"/>
<circle cx="472.20" cy="515.02" r="5.0" fill="#DDA0DD" fill-opacity="1.0"/>
<circle cx="472.20" cy="529.35" r="5.0" fill="#048882" fill-opacity="1.0"/>
<circle cx="472.20" cy="543.67" r="5.0" fill="#87CEEB" fill-opacity="1.0"/>
<circle cx="472.20" cy="558.00" r="5.0" fill="#FA8072" fill-opacity="1.0"/>
<circle cx="472.20" cy="572.33" r="5.0" fill="#87CEEB" fill-opacity="1.0"/>
<circle cx="472.20" cy="586.65" r="5.0" fill="#FFD700" fill-opacity="1.0"/>
<circle cx="472.20" cy="600.98" r="5.0" fill="#FA8072" fill-opacity="1.0"/>
<circle cx="472.20" cy="615.30" r="5.0" fill="#FA8072" fill-opacity="1.0"/>
<text x="42.65" y="389.25">paper</text>
<text x="42.65" y="403.57">recycl</text>
<text x="42.65" y="417.90">supplier</text>
<text x="42.65" y="432.23">wast</text>
<text x="42.65" y="446.55">product</text>
<text x="42.65" y="460.88">custom</text>
<text x="42.65" y="475.20">employe</text>
<text x="42.65" y="489.52">materi</text>
<text x="42.65" y="503.85">print</text>
<text x="42.65" y="518.17">recycl_paper</text>
<text x="42.65" y="532.50">sustain</text>
<text x="42.65" y="546.82">purchas</text>
<text x="42.65" y="561.15">respons</text>
<text x="42.65" y="575.48">environ</text>
<text x="42.65" y="589.80">standard</text>
<text x="42.65" y="604.12">environ_impact</text>
<text x="42.65" y="618.45">emiss</text>
<text x="114.20" y="389.25">paper</text>
<text x="114.20" y="403.57">employe</text>
<text x="114.20" y="417.90">recycl</text>
<text x="114.20" y="432.23">wast</text>
<text x="114.20" y="446.55">product</text>
<text x="114.20" y="460.88">sustain</text>
<text x="114.20" y="475.20">materi</text>
<text x="114.20" y="489.52">supplier</text>
<text x="114.20" y="503.85">custom</text>
<text x="114.20" y="518.17">purchas</text>
<text x="114.20" y="532.50">servic</text>
<text x="114.20" y="546.82">print</text>
<text x="114.20" y="561.15">emiss</text>
<text x="114.20" y="575.48">travel</text>
<text x="114.20" y="589.80">product_servic</text>
<text x="114.20" y="604.12">paper_consumpt</text>
<text x="114.20" y="618.45">environ_impact</text>
<text x="185.75" y="389.25">paper</text>
<text x="185.75" y="403.57">recycl</text>
<text x="185.75" y="417.90">sustain</text>
<text x="185.75" y="432.23">wast</text>
<text x="185.75" y="446.55">supplier</text>
<text x="185.75" y="460.88">employe</text>
<text x="185.75" y="475.20">custom</text>
<text x="185.75" y="489.52">product</text>
<text x="185.75" y="503.85">environ</text>
<text x="185.75" y="518.17">materi</text>
<text x="185.75" y="532.50">emiss</text>
<text x="185.75" y="546.82">consumpt</text>
<text x="185.75" y="561.15">servic</text>
<text x="185.75" y="575.48">print</text>
<text x="185.75" y="589.80">product_servic</text>
<text x="185.75" y="604.12">environ_impact</text>
<text x="185.75" y="618.45">purchas</text>
<text x="257.30" y="389.25">paper</text>
<text x="257.30" y="403.57">sustain</text>
<text x="257.30" y="417.90">recycl</text>
<text x="257.30" y="432.23">supplier</text>
<text x="257.30" y="446.55">wast</text>
<text x="257.30" y="460.88">materi</text>
<text x="257.30" y="475.20">product</text>
<text x="257.30" y="489.52">emiss</text>
<text x="257.30" y="503.85">employe</text>
<text x="257.30" y="518.17">consumpt</text>
<text x="257.30" y="532.50">environ</text>
<text x="257.30" y="546.82">custom</text>
<text x="257.30" y="561.15">respons</text>
<text x="257.30" y="575.48">paper_consumpt</text>
<text x="257.30" y="589.80">environ_impact</text>
<text x="257.30" y="604.12">sustain_report</text>
<text x="257.30" y="618.45">purchas</text>
<text x="328.85" y="389.25">paper</text>
<text x="328.85" y="403.57">wast</text>
<text x="328.85" y="417.90">sustain</text>
<text x="328.85" y="432.23">product</text>
<text x="328.85" y="446.55">employe</text>
<text x="328.85" y="460.88">supplier</text>
<text x="328.85" y="475.20">recycl</text>
<text x="328.85" y="489.52">materi</text>
<text x="328.85" y="503.85">respons</text>
<text x="328.85" y="518.17">emiss</text>
<text x="328.85" y="532.50">consumpt</text>
<text x="328.85" y="546.82">measur</text>
<text x="328.85" y="561.15">servic</text>
<text x="328.85" y="575.48">paper_consumpt</text>
<text x="328.85" y="589.80">travel</text>
<text x="328.85" y="604.12">energi</text>
<text x="328.85" y="618.45">environ_impact</text>
<text x="400.40" y="389.25">wast</text>
<text x="400.40" y="403.57">product</text>
<text x="400.40" y="417.90">recycl</text>
<text x="400.40" y="432.23">sustain</text>
<text x="400.40" y="446.55">materi</text>
<text x="400.40" y="460.88">emiss</text>
<text x="400.40" y="475.20">paper</text>
<text x="400.40" y="489.52">employe</text>
<text x="400.40" y="503.85">consumpt</text>
<text x="400.40" y="518.17">supplier</text>
<text x="400.40" y="532.50">custom</text>
<text x="400.40" y="546.82">nwast</text>
<text x="400.40" y="561.15">purchas</text>
<text x="400.40" y="575.48">plastic</text>
<text x="400.40" y="589.80">nsustain</text>
<text x="400.40" y="604.12">npaper</text>
<text x="400.40" y="618.45">environ</text>
<text x="471.95" y="389.25">wast</text>
<text x="471.95" y="403.57">sustain</text>
<text x="471.95" y="417.90">product</text>
<text x="471.95" y="432.23">recycl</text>
<text x="471.95" y="446.55">materi</text>
<text x="471.95" y="460.88">emiss</text>
<text x="471.95" y="475.20">supplier</text>
<text x="471.95" y="489.52">paper</text>
<text x="471.95" y="503.85">nwast</text>
<text x="471.95" y="518.17">consumpt</text>
<text x="471.95" y="532.50">suppli_chain</text>
<text x="471.95" y="546.82">environ_impact</text>
<text x="471.95" y="561.15">employe</text>
<text x="471.95" y="575.48">nsustain</text>
<text x="471.95" y="589.80">servic</text>
<text x="471.95" y="604.12">measur</text>
<text x="471.95" y="618.45">categori</text>
<text x="4.9" y="384.5">High</text>
<text x="6.5" y="635.8">Low</text>
<text x="42.35" y="638.5">2010</text>
<text x="113.95" y="638.5">2012</text>
<text x="185.55" y="638.5">2014</text>
<text x="257.15" y="638.5">2016</text>
<text x="328.75" y="638.5">2018</text>
<text x="400.35" y="638.5">2020</text>
<text x="471.95" y="638.5">2022</text>
<text x="276.9" y="647.5">Year</text>
<text transform="translate(20.8,500.6) rotate(-90)" text-anchor="middle">Ranking by Word Count</text>
<rect x="23.5" y="650.3" width="521.1" height="26.8" rx="1.5" fill="#fff" fill-opacity="0.8" stroke="#e2e2e2" stroke-width="0.9"/>
<line x1="24.5" y1="676.70" x2="543.60" y2="676.70" stroke="#dcdcdc" stroke-width="1"/>
<rect x="26.5" y="654.00" width="17" height="6" fill="#87CEEB"/>
<text x="50.40" y="660.00">Environment and Sustainability</text>
<rect x="26.5" y="666.00" width="17" height="6" fill="#DDA0DD"/>
<text x="50.40" y="672.00">Consumption Management and Recycling</text>
<rect x="208.1" y="654.00" width="17" height="6" fill="#048882"/>
<text x="232.00" y="660.00">Business Operations</text>
<rect x="208.1" y="666.00" width="17" height="6" fill="#FA8072"/>
<text x="232.00" y="672.00">Corporate Responsibility</text>
<rect x="332.0" y="654.00" width="17" height="6" fill="#9ACD32"/>
<text x="355.90" y="660.00">Energy and Material</text>
<rect x="441.3" y="654.00" width="17" height="6" fill="#FFD700"/>
<text x="465.20" y="660.00">Customer and Services</text>
</svg></body></html>
